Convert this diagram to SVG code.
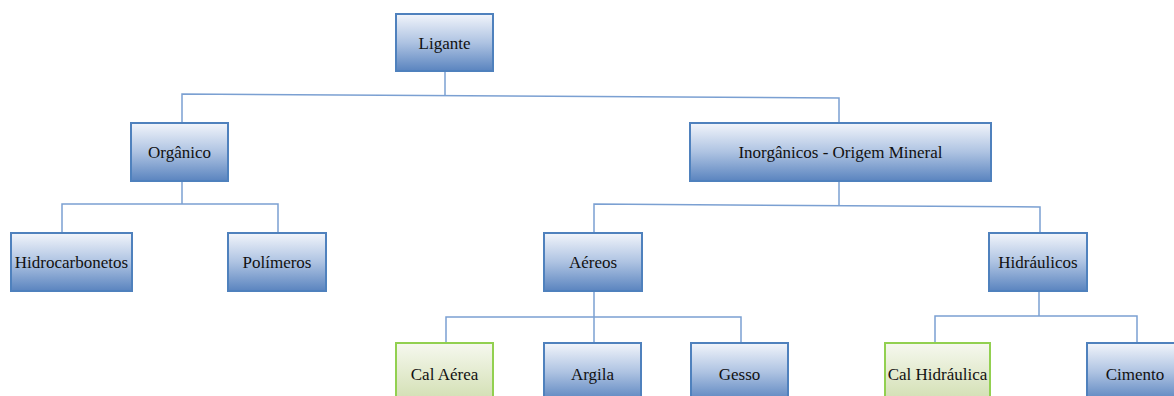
<svg xmlns="http://www.w3.org/2000/svg" width="1174" height="396" viewBox="0 0 1174 396">
<defs>
<linearGradient id="gb" x1="0" y1="0" x2="0" y2="1">
<stop offset="0" stop-color="#f2f5fb"/>
<stop offset="0.5" stop-color="#aec3e2"/>
<stop offset="1" stop-color="#5a84bf"/>
</linearGradient>
<linearGradient id="gg" x1="0" y1="0" x2="0" y2="1">
<stop offset="0" stop-color="#f6f8ef"/>
<stop offset="1" stop-color="#d2dfb2"/>
</linearGradient>
<style>
.b rect{fill:url(#gb);stroke:#4f81bd;stroke-width:2}
.g rect{fill:url(#gg);stroke:#92d050;stroke-width:2}
text{font-family:"Liberation Serif","Times New Roman",serif;font-size:17px;fill:#111;text-anchor:middle}
.c{fill:none;stroke:#7ba0d2;stroke-width:1.5}
</style>
</defs>
<g id="connectors" class="c">
<polyline points="445,71 445,96"/>
<polyline points="182,123 182,94 839,98 839,123"/>
<polyline points="182,181 182,204"/>
<polyline points="62,233 62,204 278,204 278,233"/>
<polyline points="839,181 839,205"/>
<polyline points="594,233 594,204 1040,207 1040,233"/>
<polyline points="594,291 594,343"/>
<polyline points="446,343 446,317 741,317 741,343"/>
<polyline points="1039,291 1039,316"/>
<polyline points="935,343 935,316 1137,316 1137,343"/>
</g>
<g id="ligante" class="b"><rect x="396" y="14" width="97" height="57"/><text x="444.5" y="49">Ligante</text></g>
<g id="organico" class="b"><rect x="131" y="123" width="97" height="58"/><text x="179.5" y="158">Orgânico</text></g>
<g id="inorganicos" class="b"><rect x="690" y="123" width="301" height="58"/><text x="840.5" y="158">Inorgânicos - Origem Mineral</text></g>
<g id="hidrocarbonetos" class="b"><rect x="11" y="233" width="121" height="58"/><text x="71.5" y="268">Hidrocarbonetos</text></g>
<g id="polimeros" class="b"><rect x="228" y="233" width="98" height="58"/><text x="277" y="268">Polímeros</text></g>
<g id="aereos" class="b"><rect x="544" y="233" width="98" height="58"/><text x="593" y="268">Aéreos</text></g>
<g id="hidraulicos" class="b"><rect x="989" y="233" width="98" height="58"/><text x="1038" y="268">Hidráulicos</text></g>
<g id="cal-aerea" class="g"><rect x="396" y="343" width="97" height="58"/><text x="444.5" y="380">Cal Aérea</text></g>
<g id="argila" class="b"><rect x="544" y="343" width="97" height="58"/><text x="592.5" y="380">Argila</text></g>
<g id="gesso" class="b"><rect x="691" y="343" width="97" height="58"/><text x="739.5" y="380">Gesso</text></g>
<g id="cal-hidraulica" class="g"><rect x="885" y="343" width="105" height="58"/><text x="937.5" y="380">Cal Hidráulica</text></g>
<g id="cimento" class="b"><rect x="1087" y="343" width="100" height="58"/><text x="1135" y="380">Cimento</text></g>
</svg>
